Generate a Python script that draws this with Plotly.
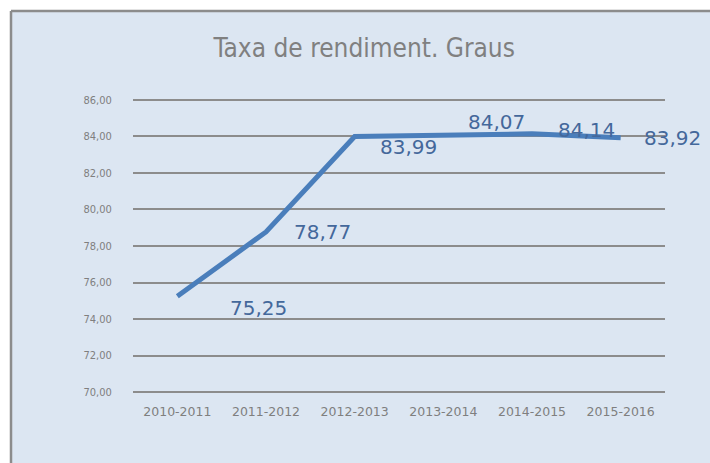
import plotly.graph_objects as go

# Academic years and graduation performance rate (%)
cursos = ["2010-2011", "2011-2012", "2012-2013", "2013-2014", "2014-2015", "2015-2016"]
taxa = [75.25, 78.77, 83.99, 84.07, 84.14, 83.92]
y_ticks = [70, 72, 74, 76, 78, 80, 82, 84, 86]

# Label offsets (pixels) for each data label
label_dx = [81, 56, 54, 53, 54, 52]
label_dy = [-12, 0, -10, 13, 4, 0]

W, H = 710, 463
L, R, T, B = 133, 45, 98, 69
pw, ph = W - L - R, H - T - B

narrow = "Liberation Sans Narrow, Arial Narrow, DejaVu Sans Condensed, sans-serif"

fig = go.Figure()
fig.add_trace(go.Scatter(
    x=list(range(len(cursos))), y=taxa, mode="lines",
    line=dict(color="#4a7ebb", width=5), hoverinfo="skip", showlegend=False,
))

for i, v in enumerate(taxa):
    fig.add_annotation(
        x=i, y=v, text=f"{v:.2f}".replace(".", ","), showarrow=False,
        xshift=label_dx[i], yshift=label_dy[i],
        font=dict(family="DejaVu Sans, sans-serif", size=20, color="#44689b"),
    )

# Chart frame: white strips outside the panel, grey left and top edges
def px_x(p):
    return (p - L) / pw

def px_y(p):
    return (H - B - p) / ph

fig.add_shape(type="rect", xref="paper", yref="paper", layer="below",
              x0=px_x(-5), x1=px_x(11), y0=px_y(470), y1=px_y(-5),
              fillcolor="white", line=dict(width=0))
fig.add_shape(type="rect", xref="paper", yref="paper", layer="below",
              x0=px_x(-5), x1=px_x(720), y0=px_y(11), y1=px_y(-5),
              fillcolor="white", line=dict(width=0))
fig.add_shape(type="line", xref="paper", yref="paper", layer="below",
              x0=px_x(11), x1=px_x(720), y0=px_y(11), y1=px_y(11),
              line=dict(color="#8c8c8c", width=2.5))
fig.add_shape(type="line", xref="paper", yref="paper", layer="below",
              x0=px_x(11), x1=px_x(11), y0=px_y(470), y1=px_y(11),
              line=dict(color="#8c8c8c", width=2.5))

fig.update_layout(
    width=W, height=H, margin=dict(l=L, r=R, t=T, b=B),
    paper_bgcolor="#dce6f2", plot_bgcolor="rgba(0,0,0,0)",
    separators=",.",
    title=dict(text="Taxa de rendiment. Graus", x=0.513, xanchor="center",
               y=1 - 48 / H, yanchor="middle",
               font=dict(family=narrow, size=26, color="#808080")),
    xaxis=dict(
        tickmode="array", tickvals=list(range(len(cursos))), ticktext=cursos,
        range=[-0.5, len(cursos) - 0.5], showgrid=False, zeroline=False,
        showline=False, ticks="outside", ticklen=6, tickcolor="rgba(0,0,0,0)",
        tickfont=dict(family="DejaVu Sans, sans-serif", size=12.5, color="#7f7f7f"),
    ),
    yaxis=dict(
        range=[69.9, 86.1], tickmode="array", tickvals=y_ticks, tickformat=".2f",
        showgrid=True, gridcolor="#8c8c8c", gridwidth=2, zeroline=False,
        showline=False, ticks="outside", ticklen=18, tickcolor="rgba(0,0,0,0)",
        tickfont=dict(family=narrow, size=11, color="#7f7f7f"),
    ),
)

fig.write_html("out.html")
